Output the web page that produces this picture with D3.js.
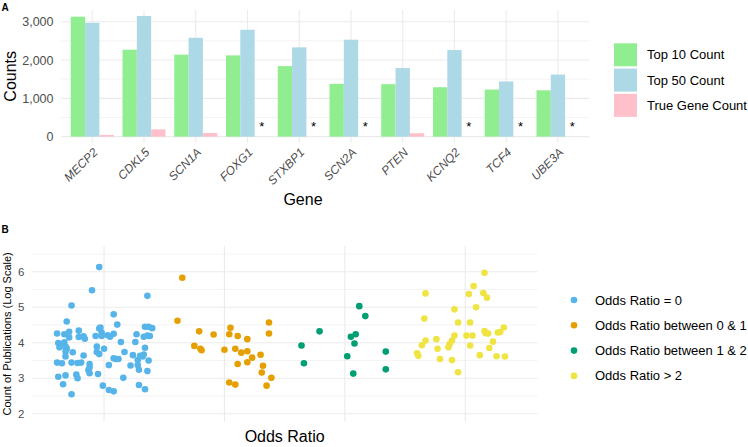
<!DOCTYPE html>
<html><head><meta charset="utf-8">
<script src="https://cdn.jsdelivr.net/npm/d3@7"></script>
<style>
body{margin:0;background:#fff;}
svg{display:block;font-family:"Liberation Sans",Arial,sans-serif;}
</style></head>
<body><svg id="c" width="748" height="447"></svg>
<script>
// ---------- Panel A data ----------
const genes = ["MECP2","CDKL5","SCN1A","FOXG1","STXBP1","SCN2A","PTEN","KCNQ2","TCF4","UBE3A"];
const top10Count = [3130,2270,2140,2120,1840,1380,1370,1290,1230,1210];
const top50Count = [2970,3150,2580,2790,2330,2530,1790,2260,1440,1620];
const trueGeneCount = [45,190,95,0,0,0,90,0,0,0];
const seriesNames = ["Top 10 Count","Top 50 Count","True Gene Count"];
const countTicks = [0,1000,2000,3000];
const countMinor = [500,1500,2500];

// ---------- Panel B data ----------
const oddsGroups = ["Odds Ratio = 0","Odds Ratio between 0 & 1","Odds Ratio between 1 & 2","Odds Ratio > 2"];
const or0Jitter = [-0.04,-0.10,-0.27,0.36,0.08,-0.31,0.11,-0.39,-0.33,-0.29,-0.29,-0.21,-0.21,-0.17,-0.16,-0.07,-0.04,-0.03,-0.02,-0.02,0.03,0.05,0.08,0.27,0.34,0.37,0.40,0.33,0.36,0.38,-0.38,-0.35,-0.33,-0.32,-0.37,-0.31,-0.32,-0.26,-0.32,-0.17,-0.06,-0.06,-0.04,0.00,0.14,0.26,0.17,0.34,-0.39,-0.35,-0.27,-0.22,-0.19,-0.12,-0.12,0.04,0.08,0.10,0.12,0.24,0.28,0.30,0.32,0.33,0.37,0.22,0.28,0.29,0.36,-0.13,-0.12,-0.38,-0.32,-0.23,-0.22,-0.05,0.16,-0.34,0.29,-0.01,0.04,0.08,0.34,-0.27];
const or0Values = [6.13,5.48,5.05,5.32,4.80,4.60,4.51,4.26,4.24,4.31,4.15,4.34,4.16,4.18,4.11,4.19,4.40,4.43,4.29,4.19,4.21,4.17,4.25,4.24,4.45,4.45,4.41,4.17,4.20,4.19,3.99,3.94,4.01,3.89,3.87,3.84,3.75,3.73,3.61,3.64,3.89,3.74,3.68,3.83,4.02,4.02,3.74,3.86,3.44,3.42,3.44,3.43,3.44,3.40,3.30,3.37,3.56,3.54,3.54,3.65,3.51,3.63,3.61,3.67,3.50,3.36,3.37,3.24,3.20,3.23,3.14,3.04,3.08,3.10,3.00,3.12,3.01,2.83,2.81,2.79,2.67,2.63,2.69,2.55];
const or01Jitter = [-0.35,-0.39,-0.21,-0.09,-0.25,-0.20,-0.19,0.05,0.04,0.11,0.19,0.00,0.09,0.14,0.19,0.23,0.19,0.11,0.30,0.32,0.31,0.39,0.37,0.37,0.04,0.09,0.35];
const or01Values = [5.83,4.62,4.32,4.23,3.91,3.83,3.79,4.42,4.24,4.19,4.10,3.80,3.83,3.72,3.76,3.58,3.45,3.40,3.66,3.35,3.16,3.01,4.57,4.26,2.88,2.82,2.79];
const or12Jitter = [0.12,0.17,-0.21,-0.36,-0.34,0.05,0.09,0.08,0.02,0.07,0.34,0.34];
const or12Values = [5.03,4.75,4.32,3.92,3.42,4.17,4.24,3.98,3.62,3.13,3.75,3.25];
const or2Jitter = [0.16,0.07,0.03,0.15,0.18,-0.33,0.09,-0.09,-0.34,0.04,-0.06,-0.33,-0.36,-0.40,-0.39,-0.24,-0.23,-0.21,-0.14,-0.13,-0.11,-0.09,-0.11,-0.06,0.01,0.06,0.16,0.17,0.19,0.04,0.20,0.23,0.27,0.29,0.32,0.12,0.26,0.33];
const or2Values = [5.97,5.60,5.37,5.40,5.27,5.39,5.00,4.94,4.68,4.57,4.57,4.06,3.93,3.70,3.63,4.10,3.83,3.54,3.87,3.96,4.06,4.20,3.51,3.17,4.20,4.20,4.33,4.27,4.26,3.92,3.85,4.03,4.29,4.30,4.43,3.65,3.62,3.61];
const pubTicks = [2,3,4,5,6];
const pubMinor = [2.5,3.5,4.5,5.5,6.5];

const svg = d3.select("#c");
const grid = "#EBEBEB", tickCol = "#4D4D4D";

// ================= Panel A =================
const A = {l:61.2, r:589, t:9.9, b:142.7};
const xA = d3.scaleBand().domain(genes).range([A.l, A.r]).paddingInner(0.17).paddingOuter(0.185);
const xSub = d3.scaleBand().domain(seriesNames).range([0, xA.bandwidth()]);
const yA = d3.scaleLinear().domain([-157.5, 3307.5]).range([A.b, A.t]);
const barColors = d3.scaleOrdinal().domain(seriesNames).range(["#90EE90","#ADD8E6","#FFC0CB"]);

const gA = svg.append("g");
gA.selectAll(".mn").data(countMinor).join("line")
  .attr("x1",A.l).attr("x2",A.r).attr("y1",d=>yA(d)).attr("y2",d=>yA(d))
  .attr("stroke",grid).attr("stroke-width",0.6);
gA.selectAll(".mj").data(countTicks).join("line")
  .attr("x1",A.l).attr("x2",A.r).attr("y1",d=>yA(d)).attr("y2",d=>yA(d))
  .attr("stroke",grid).attr("stroke-width",1.1);
gA.selectAll(".vx").data(genes).join("line")
  .attr("x1",d=>xA(d)+xA.bandwidth()/2).attr("x2",d=>xA(d)+xA.bandwidth()/2)
  .attr("y1",A.t).attr("y2",A.b).attr("stroke",grid).attr("stroke-width",1.1);

const barData = [];
genes.forEach((g,i)=>{
  [top10Count[i], top50Count[i], trueGeneCount[i]].forEach((v,j)=>barData.push({gene:g, series:seriesNames[j], value:v}));
});
gA.selectAll("rect.bar").data(barData.filter(d=>d.value>0)).join("rect")
  .attr("x",d=>xA(d.gene)+xSub(d.series))
  .attr("width",xSub.bandwidth())
  .attr("y",d=>yA(d.value))
  .attr("height",d=>yA(0)-yA(d.value))
  .attr("fill",d=>barColors(d.series));

// stars where true count is zero
gA.selectAll("text.star").data(genes.filter((g,i)=>trueGeneCount[i]===0)).join("text")
  .attr("x",g=>xA(g)+xSub("True Gene Count")+xSub.bandwidth()/2)
  .attr("y",yA(0)-5.5)
  .attr("text-anchor","middle").attr("font-size",13).attr("fill","#000").text("*");

// y axis A
const yAxisA = d3.axisLeft(yA).tickValues(countTicks).tickFormat(d3.format(",")).tickSize(0).tickPadding(0);
const yaG = gA.append("g").attr("transform",`translate(${53.5},0)`).call(yAxisA);
yaG.select(".domain").remove();
yaG.selectAll("text").attr("font-size",12.5).attr("fill",tickCol).attr("font-family","Liberation Sans, Arial, sans-serif");

// x axis A
const xaG = gA.append("g").attr("transform",`translate(0,${147})`);
xaG.selectAll("text").data(genes).join("text")
  .attr("transform",d=>`translate(${xA(d)+xA.bandwidth()/2},0) rotate(-45)`)
  .attr("text-anchor","end").attr("dy","0.72em")
  .attr("font-size",12).attr("font-style","italic").attr("fill",tickCol).text(d=>d);

gA.append("text").attr("x",303).attr("y",205).attr("text-anchor","middle").attr("font-size",16).attr("fill","#000").text("Gene");
gA.append("text").attr("transform",`translate(15.5,${(A.t+A.b)/2}) rotate(-90)`).attr("text-anchor","middle").attr("font-size",16).attr("fill","#000").text("Counts");
gA.append("text").attr("x",1.5).attr("y",10.7).attr("font-size",10).attr("font-weight","bold").text("A");

// legend A
const legA = gA.append("g").attr("transform","translate(614,43.3)");
seriesNames.forEach((s,i)=>{
  legA.append("rect").attr("x",0).attr("y",i*25.3).attr("width",23).attr("height",23).attr("fill",barColors(s));
  legA.append("text").attr("x",33).attr("y",i*25.3+11.5).attr("dy","0.35em").attr("font-size",13).attr("fill","#000").text(s);
});

// ================= Panel B =================
const B = {l:31.8, r:537.5, t:246, b:421.7};
const xB = d3.scalePoint().domain(oddsGroups).range([B.l, B.r]).padding(0.6);
const yB = d3.scaleLinear().domain([1.775, 6.725]).range([B.b, B.t]);
const ptColors = d3.scaleOrdinal().domain(oddsGroups).range(["#56B4E9","#E69F00","#009E73","#F0E442"]);

const gB = svg.append("g");
gB.selectAll(".mn").data(pubMinor).join("line")
  .attr("x1",B.l).attr("x2",B.r).attr("y1",d=>yB(d)).attr("y2",d=>yB(d))
  .attr("stroke",grid).attr("stroke-width",0.6);
gB.selectAll(".mj").data(pubTicks).join("line")
  .attr("x1",B.l).attr("x2",B.r).attr("y1",d=>yB(d)).attr("y2",d=>yB(d))
  .attr("stroke",grid).attr("stroke-width",1.1);
gB.selectAll(".vx").data(oddsGroups).join("line")
  .attr("x1",d=>xB(d)).attr("x2",d=>xB(d)).attr("y1",B.t).attr("y2",B.b)
  .attr("stroke",grid).attr("stroke-width",1.1);

const jitters = [or0Jitter, or01Jitter, or12Jitter, or2Jitter];
const values = [or0Values, or01Values, or12Values, or2Values];
const pts = [];
oddsGroups.forEach((g,i)=>values[i].forEach((v,k)=>pts.push({group:g, jit:jitters[i][k], value:v})));
gB.selectAll("circle.pt").data(pts).join("circle")
  .attr("cx",d=>xB(d.group)+d.jit*xB.step())
  .attr("cy",d=>yB(d.value))
  .attr("r",3.3)
  .attr("fill",d=>ptColors(d.group));

const yAxisB = d3.axisLeft(yB).tickValues(pubTicks).tickFormat(d3.format("d")).tickSize(0).tickPadding(0);
const ybG = gB.append("g").attr("transform",`translate(${24.5},0)`).call(yAxisB);
ybG.select(".domain").remove();
ybG.selectAll("text").attr("font-size",11.5).attr("fill",tickCol).attr("font-family","Liberation Sans, Arial, sans-serif");

gB.append("text").attr("x",(B.l+B.r)/2).attr("y",441.5).attr("text-anchor","middle").attr("font-size",16).attr("fill","#000").text("Odds Ratio");
gB.append("text").attr("transform",`translate(11.3,${(B.t+B.b)/2}) rotate(-90)`).attr("text-anchor","middle").attr("font-size",11).attr("fill","#000").text("Count of Publications (Log Scale)");
gB.append("text").attr("x",1.5).attr("y",233).attr("font-size",10).attr("font-weight","bold").text("B");

const legB = gB.append("g").attr("transform","translate(574,300)");
oddsGroups.forEach((s,i)=>{
  legB.append("circle").attr("cx",0).attr("cy",i*25.3).attr("r",3.3).attr("fill",ptColors(s));
  legB.append("text").attr("x",21).attr("y",i*25.3).attr("dy","0.35em").attr("font-size",13).attr("fill","#000").text(s);
});
</script></body></html>
